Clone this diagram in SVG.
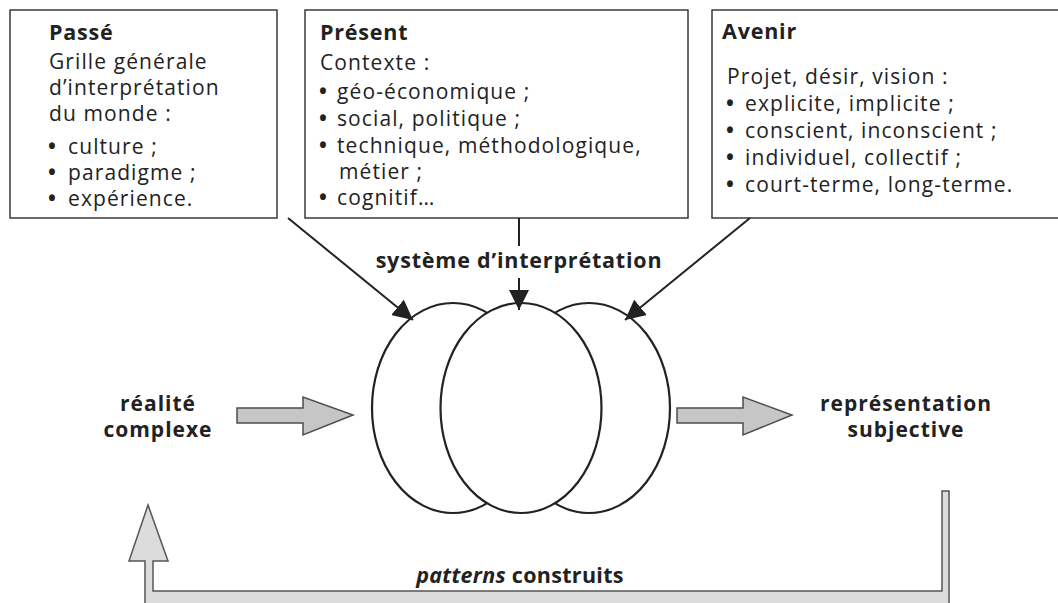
<svg xmlns="http://www.w3.org/2000/svg" width="1058" height="603" viewBox="0 0 1058 603">
<defs>
<style>
.box{fill:#fff;stroke:#3a3a3a;stroke-width:1.5}
.t{font-family:"Open Sans","Noto Sans",sans-serif;font-size:21px;fill:#222;letter-spacing:1.1px}
.b{font-family:"Open Sans","Noto Sans",sans-serif;font-size:21.5px;font-weight:bold;fill:#222;letter-spacing:0.8px}
.b2{font-family:"Open Sans","Noto Sans",sans-serif;font-size:21px;font-weight:bold;fill:#222;letter-spacing:1px}
.bu{font-family:"Open Sans","Noto Sans",sans-serif;font-size:21px;font-weight:bold;fill:#222}
.conn{stroke:#222;stroke-width:2;fill:none}
.ell{fill:#fff;stroke:#222;stroke-width:2.2}
.blk{fill:#c6c6c6;stroke:#4d4d4d;stroke-width:1.5;stroke-linejoin:miter}
.fb{fill:#dcdcdc;stroke:#555;stroke-width:1.5}
</style>
<marker id="ah" viewBox="0 0 20 20" refX="20" refY="10" markerWidth="20" markerHeight="20" markerUnits="userSpaceOnUse" orient="auto">
<path d="M0,0 L20,10 L0,20 z" fill="#222"/>
</marker>
</defs>
<rect width="1058" height="603" fill="#fff"/>

<g id="passe">
<rect class="box" x="10" y="10" width="267" height="208"/>
<text class="b" x="49" y="40">Passé</text>
<text class="t" x="49" y="69">Grille générale</text>
<text class="t" x="49" y="95">d’interprétation</text>
<text class="t" x="49" y="121">du monde :</text>
<text class="bu" x="48" y="154">•</text><text class="t" x="68" y="154">culture ;</text>
<text class="bu" x="48" y="180">•</text><text class="t" x="68" y="180">paradigme ;</text>
<text class="bu" x="48" y="206">•</text><text class="t" x="68" y="206">expérience.</text>
</g>

<g id="present">
<rect class="box" x="305" y="10" width="383" height="208"/>
<text class="b" x="320" y="40">Présent</text>
<text class="t" x="320" y="70">Contexte :</text>
<text class="bu" x="319" y="99">•</text><text class="t" x="337" y="99">géo-économique ;</text>
<text class="bu" x="319" y="126">•</text><text class="t" x="337" y="126">social, politique ;</text>
<text class="bu" x="319" y="153">•</text><text class="t" x="337" y="153">technique, méthodologique,</text>
<text class="t" x="339" y="179">métier ;</text>
<text class="bu" x="319" y="205">•</text><text class="t" x="337" y="205">cognitif…</text>
</g>

<g id="avenir">
<rect class="box" x="712" y="10" width="360" height="208"/>
<text class="b" x="722" y="39">Avenir</text>
<text class="t" x="727" y="84">Projet, désir, vision :</text>
<text class="bu" x="726" y="111">•</text><text class="t" x="745" y="111">explicite, implicite ;</text>
<text class="bu" x="726" y="138">•</text><text class="t" x="745" y="138">conscient, inconscient ;</text>
<text class="bu" x="726" y="165">•</text><text class="t" x="745" y="165">individuel, collectif ;</text>
<text class="bu" x="726" y="192">•</text><text class="t" x="745" y="192">court-terme, long-terme.</text>
</g>

<g id="systeme">
<ellipse class="ell" cx="453" cy="408" rx="81" ry="105"/>
<ellipse class="ell" cx="589" cy="408" rx="81" ry="105"/>
<ellipse class="ell" cx="521" cy="408" rx="80.5" ry="105"/>
<text class="b" x="519" y="268" text-anchor="middle">système d’interprétation</text>
</g>

<g id="realite">
<text class="b2" x="158" y="411" text-anchor="middle">réalité</text>
<text class="b2" x="158" y="437" text-anchor="middle">complexe</text>
</g>

<g id="representation">
<text class="b2" x="906" y="411" text-anchor="middle">représentation</text>
<text class="b2" x="906" y="437" text-anchor="middle">subjective</text>
</g>

<g id="patterns">
<text class="b" x="520" y="583" text-anchor="middle" style="letter-spacing:0.3px"><tspan font-style="italic">patterns</tspan> construits</text>
</g>

<g id="connectors">
<line class="conn" x1="288" y1="218" x2="413" y2="320" marker-end="url(#ah)"/>
<line class="conn" x1="519" y1="218" x2="519" y2="246"/>
<line class="conn" x1="519" y1="278" x2="519" y2="310" marker-end="url(#ah)"/>
<line class="conn" x1="750" y1="218" x2="625" y2="320" marker-end="url(#ah)"/>
<polygon class="blk" points="237,408 303,408 303,397 353,415 303,435 303,423 237,423"/>
<polygon class="blk" points="677,408 743,408 743,397 792,415 743,435 743,423 677,423"/>
<polygon class="fb" points="148,505 168,561 153,561 153,591 942,591 942,491 949,491 949,610 145,610 145,561 129,561"/>
</g>
</svg>
